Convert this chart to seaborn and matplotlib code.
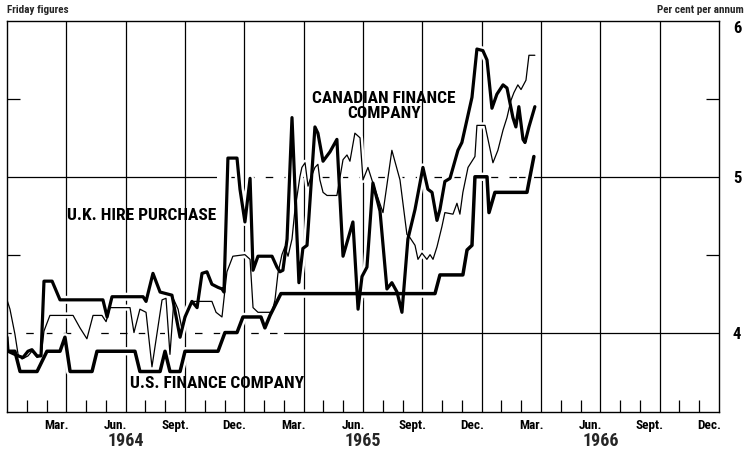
import matplotlib.pyplot as plt
from matplotlib import font_manager
from matplotlib.ticker import FixedLocator
import pandas as pd
import seaborn as sns

# Friday figures
# x = months counted from 1 Jan 1964, y = per cent per annum
us_months = [0.0, 0.40, 0.66, 1.52, 2.02, 2.68, 2.93, 3.19, 4.30, 4.55,
             6.47, 6.72, 7.74, 7.99, 8.24, 8.75, 9.00, 10.67, 11.02, 11.63,
             11.93, 12.84, 13.04, 13.30, 13.85, 21.64, 21.89, 23.05, 23.26, 23.51,
             23.66, 24.27, 24.37, 24.67, 26.29, 26.64]
us_rates = [3.88, 3.88, 3.75, 3.75, 3.88, 3.88, 3.97, 3.75, 3.75, 3.88,
            3.88, 3.75, 3.75, 3.88, 3.75, 3.75, 3.88, 3.88, 4.00, 4.00,
            4.10, 4.10, 4.03, 4.11, 4.25, 4.25, 4.37, 4.37, 4.53, 4.56,
            5.00, 5.00, 4.77, 4.90, 4.90, 5.13]

uk_months = [0.0, 0.05, 0.56, 0.81, 1.06, 1.26, 1.52, 1.72, 1.87, 2.28,
             2.68, 4.85, 5.06, 5.31, 6.88, 7.03, 7.38, 7.74, 8.34, 8.75,
             9.00, 9.35, 9.61, 9.86, 10.11, 10.36, 10.67, 10.87, 10.97, 11.17,
             11.63, 11.78, 12.03, 12.29, 12.44, 12.69, 13.40, 13.65, 13.80, 13.95,
             14.16, 14.41, 14.76, 14.96, 15.17, 15.57, 15.72, 15.98, 16.33, 16.68,
             16.99, 17.49, 17.75, 17.95, 18.20, 18.50, 18.86, 19.21, 19.46, 19.72,
             19.97, 20.27, 20.63, 21.03, 21.28, 21.49, 21.74, 21.89, 22.14, 22.40,
             22.80, 23.00, 23.51, 23.76, 24.06, 24.27, 24.52, 24.77, 25.08, 25.28,
             25.58, 25.73, 25.88, 26.09, 26.19, 26.39, 26.69]
uk_rates = [3.97, 3.88, 3.85, 3.84, 3.88, 3.89, 3.85, 3.85, 4.33, 4.33,
            4.21, 4.21, 4.10, 4.23, 4.23, 4.20, 4.38, 4.26, 4.24, 3.97,
            4.10, 4.20, 4.16, 4.38, 4.39, 4.31, 4.29, 4.28, 4.26, 5.12,
            5.12, 4.92, 4.71, 4.99, 4.40, 4.49, 4.49, 4.42, 4.39, 4.40,
            4.60, 5.38, 4.32, 4.54, 4.56, 5.32, 5.28, 5.10, 5.16, 5.24,
            4.49, 4.71, 4.15, 4.36, 4.42, 4.96, 4.78, 4.28, 4.32, 4.26,
            4.13, 4.60, 4.79, 5.06, 4.92, 4.90, 4.72, 4.79, 4.97, 4.99,
            5.17, 5.22, 5.51, 5.82, 5.81, 5.75, 5.44, 5.53, 5.59, 5.57,
            5.38, 5.32, 5.45, 5.24, 5.22, 5.32, 5.45]

can_months = [0.0, 0.15, 0.40, 0.56, 0.76, 1.06, 1.26, 1.52, 1.72, 1.87,
              2.17, 3.34, 3.69, 4.04, 4.35, 4.80, 5.01, 5.21, 6.22, 6.42,
              6.72, 7.03, 7.33, 7.84, 8.04, 8.24, 8.44, 8.65, 8.85, 9.10,
              9.35, 10.36, 10.57, 10.87, 11.12, 11.42, 12.03, 12.29, 12.44, 12.69,
              13.40, 13.55, 13.70, 13.90, 14.05, 14.21, 14.41, 14.56, 14.66, 14.81,
              14.91, 15.07, 15.22, 15.32, 15.57, 15.72, 15.82, 15.98, 16.18, 16.68,
              16.99, 17.19, 17.34, 17.59, 17.85, 18.00, 18.25, 18.50, 19.01, 19.46,
              19.87, 20.22, 20.37, 20.63, 20.78, 20.98, 21.23, 21.39, 21.54, 21.74,
              21.99, 22.14, 22.55, 22.75, 22.90, 23.05, 23.31, 23.66, 23.76, 24.17,
              24.32, 24.57, 24.82, 25.08, 25.28, 25.48, 25.63, 25.83, 25.99, 26.24,
              26.39, 26.69]
can_rates = [4.21, 4.15, 3.99, 3.86, 3.83, 3.85, 3.88, 3.84, 3.85, 4.01,
             4.11, 4.11, 4.03, 3.96, 4.11, 4.11, 4.07, 4.16, 4.16, 4.00,
             4.15, 4.13, 3.78, 4.21, 4.22, 3.86, 4.21, 4.15, 4.02, 4.13,
             4.20, 4.20, 4.13, 4.10, 4.39, 4.49, 4.50, 4.47, 4.16, 4.13,
             4.13, 4.21, 4.38, 4.50, 4.55, 4.49, 4.60, 4.79, 4.87, 5.00,
             5.06, 5.09, 4.94, 4.98, 5.06, 5.08, 4.98, 4.90, 4.88, 4.88,
             5.11, 5.14, 5.10, 5.28, 5.25, 4.98, 5.06, 4.96, 4.77, 5.17,
             4.98, 4.63, 4.61, 4.56, 4.47, 4.51, 4.47, 4.50, 4.47, 4.55,
             4.68, 4.77, 4.76, 4.83, 4.76, 4.90, 5.06, 5.13, 5.33, 5.33,
             5.24, 5.09, 5.17, 5.30, 5.38, 5.49, 5.54, 5.59, 5.56, 5.62,
             5.78, 5.78]

month_labels = ['Mar.', 'Jun.', 'Sept.', 'Dec.'] * 3
year_labels = ['1964', '1965', '1966']

sns.set_theme(style='white')

# the original lettering is a bold condensed face; use one if it is there
installed = {f.name for f in font_manager.fontManager.ttflist}
narrow = None
for cand in ['Liberation Sans Narrow', 'Roboto Condensed', 'DejaVu Sans Condensed',
             'Open Sans Condensed', 'Noto Sans Condensed', 'Arial Narrow']:
    if cand in installed:
        narrow = cand
        break
if narrow:
    plt.rcParams['font.family'] = [narrow, 'DejaVu Sans']
    big, mid, small, year = 12.5, 9.5, 8, 13
else:
    plt.rcParams['font.family'] = ['DejaVu Sans']
    big, mid, small, year = 9.5, 7.5, 6, 10
plt.rcParams['font.stretch'] = 'condensed'

fig = plt.figure(figsize=(7.46, 4.5), dpi=100)
ax = fig.add_axes([7 / 746, 38 / 450, 712 / 746, 391 / 450])

# grid: quarter lines, and the 4 / 5 per cent lines (broken where the curves run)
for q in range(3, 36, 3):
    ax.axvline(q, color='black', lw=0.9, zorder=1)
ax.axhline(5, 0, 10.2 / 36, color='black', lw=0.9, zorder=1)
ax.axhline(5, 10.2 / 36, 25.9 / 36, color='black', lw=0.9, ls=(0, (6, 9)), zorder=1)
ax.axhline(5, 25.9 / 36, 1, color='black', lw=0.9, zorder=1)
ax.axhline(4, 0, 14.0 / 36, color='black', lw=0.9, ls=(0, (6, 9)), zorder=1)
ax.axhline(4, 14.0 / 36, 1, color='black', lw=0.9, zorder=1)

series = [
    (us_months, us_rates, 2.5),
    (uk_months, uk_rates, 2.3),
    (can_months, can_rates, 0.9),
]
# white halo first so the grid is cut around the curves
for months, rates, lw in series:
    df = pd.DataFrame({'month': months, 'rate': rates})
    sns.lineplot(data=df, x='month', y='rate', ax=ax, color='white', lw=lw + 3.5,
                 sort=False, estimator=None, zorder=2)
for months, rates, lw in series:
    df = pd.DataFrame({'month': months, 'rate': rates})
    sns.lineplot(data=df, x='month', y='rate', ax=ax, color='black', lw=lw,
                 sort=False, estimator=None, zorder=3)

ax.set_xlim(0, 36)
ax.set_ylim(3.49, 6.0)
ax.set_xlabel('')
ax.set_ylabel('')

for s in ax.spines.values():
    s.set_color('black')
    s.set_linewidth(1.0)

# x axis: month ticks inside, quarter labels centred on the month
ax.set_xticks([m + 0.5 for m in range(2, 36, 3)])
ax.set_xticklabels(month_labels, fontsize=mid, fontweight='bold')
ax.xaxis.set_minor_locator(FixedLocator([m for m in range(1, 36) if m % 3]))
ax.tick_params(axis='x', which='major', length=0, pad=5, colors='black')
ax.tick_params(axis='x', which='minor', bottom=True, direction='in', length=9, width=0.9, color='black')
for i, yr in enumerate(year_labels):
    ax.text(6 + 12 * i, -0.073, yr, transform=ax.get_xaxis_transform(),
            ha='center', va='center', fontsize=year, fontweight='bold')

# y axis: labels on the right, small inner ticks at the half points
ax.set_yticks([4, 5, 6])
ax.set_yticklabels(['4', '5', '6'], fontsize=12, fontweight='bold')
ax.set_yticks([4.5, 5.5], minor=True)
ax.tick_params(axis='y', which='major', left=False, right=False, labelleft=False,
               labelright=True, length=0, pad=10, colors='black')
ax.tick_params(axis='y', which='minor', left=True, right=True, direction='in',
               length=9.5, width=0.9, color='black')
ax.get_yticklabels()[2].set_va('top')

# series labels
lab = dict(fontsize=big, fontweight='bold', ha='center', va='center', color='black')
ax.text(19.06, 5.455, 'CANADIAN FINANCE\nCOMPANY', linespacing=1.05, **lab)
ax.text(6.83, 4.75, 'U.K. HIRE PURCHASE', **lab)
ax.text(10.62, 3.67, 'U.S. FINANCE COMPANY', **lab)

fig.text(7 / 746, 1 - 10 / 450, 'Friday figures', fontsize=small, fontweight='bold', va='center')
fig.text(744 / 746, 1 - 10 / 450, 'Per cent per annum', fontsize=small, fontweight='bold',
         va='center', ha='right')

fig.savefig('out.png', dpi=100, facecolor='white')
